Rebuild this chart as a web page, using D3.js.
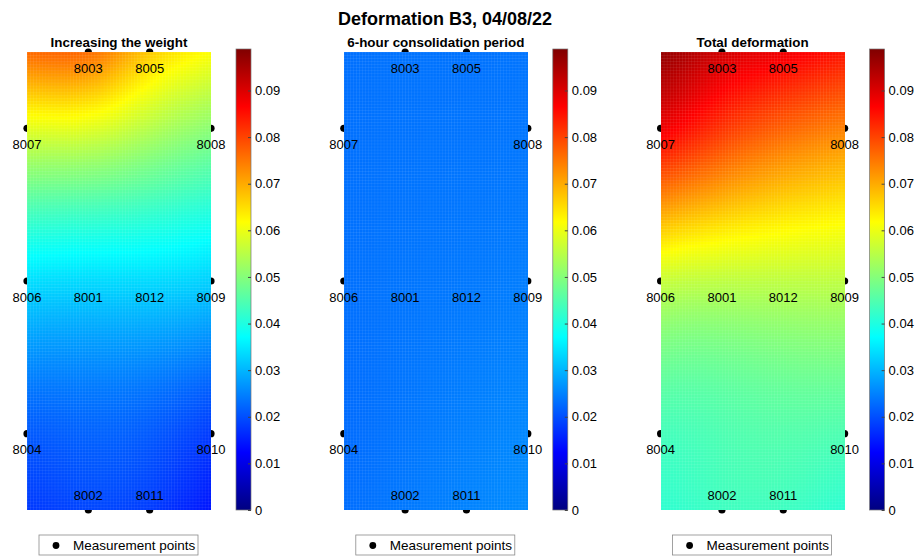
<!DOCTYPE html>
<html>
<head>
<meta charset="utf-8">
<script src="https://cdn.jsdelivr.net/npm/d3@7"></script>
<style>
  body { margin: 0; background: #fff; }
  text { font-family: "Liberation Sans", Arial, Helvetica, sans-serif; fill: #000; }
</style>
</head>
<body>
<div id="chart"></div>
<script>
// measurement points (grid position on the slab) and the deformation read at each one
const pointIds = ["8003", "8005", "8007", "8008", "8006", "8001", "8012", "8009", "8004", "8010", "8002", "8011"];
const pointX   = [1, 2, 0, 3, 0, 1, 2, 3, 0, 3, 1, 2];
const pointY   = [6, 6, 5, 5, 3, 3, 3, 3, 1, 1, 0, 0];

const weightValues        = [0.076, 0.067, 0.059, 0.0505, 0.034, 0.0335, 0.0335, 0.0325, 0.021, 0.018, 0.019, 0.018];
const consolidationValues = [0.0235, 0.0235, 0.0232, 0.0238, 0.0232, 0.0237, 0.024, 0.0245, 0.0228, 0.0255, 0.024, 0.025];
const totalValues         = [0.091, 0.088, 0.088, 0.074, 0.0565, 0.0555, 0.0555, 0.0555, 0.0437, 0.0445, 0.043, 0.043];

const panelTitles = ["Increasing the weight", "6-hour consolidation period", "Total deformation"];
const colorTicks = [0, 0.01, 0.02, 0.03, 0.04, 0.05, 0.06, 0.07, 0.08, 0.09];
const colorMax = 0.0989;

const width = 917, height = 556;
const svg = d3.select("#chart").append("svg")
    .attr("width", width)
    .attr("height", height);
const defs = svg.append("defs");

svg.append("text")
    .attr("x", 445)
    .attr("y", 25)
    .attr("text-anchor", "middle")
    .style("font-size", "18px")
    .style("font-weight", "bold")
    .text("Deformation B3, 04/08/22");

// jet colormap
const jetStops = [0, 0.125, 0.375, 0.625, 0.875, 1];
const jetColors = ["#000080", "#0000ff", "#00ffff", "#ffff00", "#ff0000", "#800000"];
const color = d3.scaleLinear()
    .domain(jetStops.map(t => t * colorMax))
    .range(jetColors)
    .clamp(true);

// solve A x = b, gaussian elimination
function solve(A, b) {
  const n = b.length;
  for (let c = 0; c < n; c++) {
    let p = c;
    for (let r = c + 1; r < n; r++) if (Math.abs(A[r][c]) > Math.abs(A[p][c])) p = r;
    [A[c], A[p]] = [A[p], A[c]];
    [b[c], b[p]] = [b[p], b[c]];
    for (let r = c + 1; r < n; r++) {
      const f = A[r][c] / A[c][c];
      for (let k = c; k < n; k++) A[r][k] -= f * A[c][k];
      b[r] -= f * b[c];
    }
  }
  const x = new Array(n).fill(0);
  for (let r = n - 1; r >= 0; r--) {
    let s = b[r];
    for (let k = r + 1; k < n; k++) s -= A[r][k] * x[k];
    x[r] = s / A[r][r];
  }
  return x;
}

// thin plate spline through the measured points
function surface(xs, ys, vs) {
  const n = xs.length;
  const phi = r => r === 0 ? 0 : r * r * Math.log(r);
  const A = [];
  for (let i = 0; i < n; i++) {
    const row = xs.map((x, j) => phi(Math.hypot(xs[i] - x, ys[i] - ys[j])));
    row.push(1, xs[i], ys[i]);
    A.push(row);
  }
  A.push(xs.map(() => 1).concat([0, 0, 0]));
  A.push(xs.slice().concat([0, 0, 0]));
  A.push(ys.slice().concat([0, 0, 0]));
  const c = solve(A, vs.concat([0, 0, 0]));
  return (x, y) => c[n] + c[n + 1] * x + c[n + 2] * y +
    d3.sum(xs, (xj, j) => c[j] * phi(Math.hypot(x - xj, y - ys[j])));
}

const panels = [weightValues, consolidationValues, totalValues];
const nx = 60, ny = 150;

panels.forEach((vals, i) => {
  const left = 27 + i * 316.8;
  const g = svg.append("g");

  const xScale = d3.scaleLinear().domain([0, 3]).range([left, left + 184]);
  const yScale = d3.scaleLinear().domain([0, 6]).range([510, 52]);

  g.append("text")
      .attr("x", xScale(1.5))
      .attr("y", 47)
      .attr("text-anchor", "middle")
      .style("font-size", "13.4px")
      .style("font-weight", "bold")
      .text(panelTitles[i]);

  // points sit under the surface, only the outer halves show
  g.selectAll("circle.pt").data(pointIds)
    .enter().append("circle")
      .attr("class", "pt")
      .attr("cx", (d, k) => xScale(pointX[k]))
      .attr("cy", (d, k) => yScale(pointY[k]))
      .attr("r", 3.6)
      .attr("fill", "#000");

  const f = surface(pointX, pointY, vals);
  const cells = [];
  for (let a = 0; a < nx; a++) {
    for (let b = 0; b < ny; b++) {
      const x0 = 3 * a / nx, y0 = 6 * b / ny;
      cells.push({ x0, y0, v: f(x0 + 1.5 / nx, y0 + 3 / ny) });
    }
  }
  const cw = xScale(3 / nx) - xScale(0);
  const ch = yScale(0) - yScale(6 / ny);
  g.append("g")
      .attr("shape-rendering", "crispEdges")
    .selectAll("rect").data(cells)
    .enter().append("rect")
      .attr("x", d => xScale(d.x0))
      .attr("y", d => yScale(d.y0) - ch)
      .attr("width", cw + 0.4)
      .attr("height", ch + 0.4)
      .attr("fill", d => color(d.v));

  // faint mesh edges of the surface
  const meshId = "mesh" + i;
  const pat = defs.append("pattern")
      .attr("id", meshId)
      .attr("patternUnits", "userSpaceOnUse")
      .attr("x", left).attr("y", 52)
      .attr("width", cw).attr("height", ch);
  pat.append("path")
      .attr("d", `M0,0.25H${cw}M0.25,0V${ch}`)
      .attr("stroke", "#fff")
      .attr("stroke-opacity", 0.13)
      .attr("stroke-width", 0.5);
  g.append("rect")
      .attr("x", left).attr("y", 52)
      .attr("width", 184).attr("height", 458)
      .attr("fill", `url(#${meshId})`);

  g.selectAll("text.lbl").data(pointIds)
    .enter().append("text")
      .attr("class", "lbl")
      .attr("x", (d, k) => xScale(pointX[k]))
      .attr("y", (d, k) => pointY[k] === 0 ? yScale(0) - 10 : yScale(pointY[k]) + 20.5)
      .attr("text-anchor", "middle")
      .style("font-size", "13px")
      .text(d => d);

  // colorbar
  const cbX = left + 209, cbW = 15;
  const cScale = d3.scaleLinear().domain([0, colorMax]).range([510, 49]);
  const gradId = "jet" + i;
  const grad = defs.append("linearGradient")
      .attr("id", gradId)
      .attr("x1", 0).attr("y1", 1).attr("x2", 0).attr("y2", 0);
  jetStops.forEach((t, k) => grad.append("stop").attr("offset", t).attr("stop-color", jetColors[k]));

  g.append("rect")
      .attr("x", cbX)
      .attr("y", cScale(colorMax))
      .attr("width", cbW)
      .attr("height", cScale(0) - cScale(colorMax))
      .attr("fill", `url(#${gradId})`)
      .attr("stroke", "#777")
      .attr("stroke-width", 0.7);

  const cAxis = d3.axisRight(cScale)
      .tickValues(colorTicks)
      .tickFormat(d => d === 0 ? "0" : d3.format(".2f")(d))
      .tickSize(-3)
      .tickPadding(4);
  const axG = g.append("g")
      .attr("transform", `translate(${cbX + cbW}, 0)`)
      .call(cAxis);
  axG.select(".domain").remove();
  axG.selectAll(".tick line").attr("stroke", "#444");
  axG.selectAll(".tick text")
      .style("font-size", "13px")
      .style("font-family", "'Liberation Sans', Arial, sans-serif")
      .attr("fill", "#000");

  // legend
  const lgX = xScale(1.5) - 80;
  const lg = g.append("g").attr("transform", `translate(${lgX}, 535)`);
  lg.append("rect")
      .attr("width", 159)
      .attr("height", 20)
      .attr("fill", "#fff")
      .attr("stroke", "#8a8a8a")
      .attr("stroke-width", 0.8);
  lg.append("circle")
      .attr("cx", 17)
      .attr("cy", 10.5)
      .attr("r", 3.4)
      .attr("fill", "#000");
  lg.append("text")
      .attr("x", 34)
      .attr("y", 15)
      .style("font-size", "13.5px")
      .text("Measurement points");
});
</script>
</body>
</html>
